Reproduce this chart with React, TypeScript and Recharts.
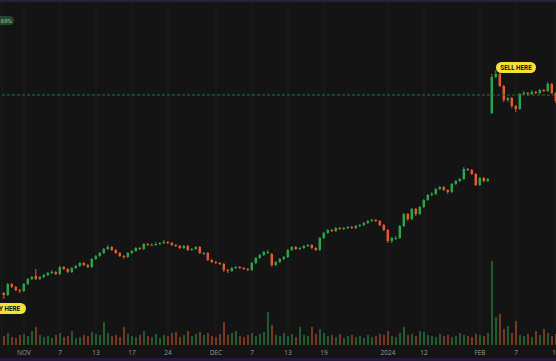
import React from 'react';
import { ComposedChart, Bar, XAxis, YAxis, CartesianGrid, ReferenceLine, ReferenceDot, Cell } from 'recharts';

const opens = [
  227, 225, 236, 233, 230, 229, 236, 241, 244, 241,
  243, 245, 247, 248, 246, 253, 251, 248, 252, 254,
  257, 255, 253, 261, 264, 267, 271, 273, 270, 267,
  264, 263, 267, 269, 272, 271, 276, 275, 275, 276,
  277, 278, 277, 275, 274, 272, 274, 270, 271, 273,
  267, 267, 260, 258, 257, 256, 250, 249, 252, 253,
  252, 251, 250, 257, 262, 265, 268, 266, 255, 258,
  261, 263, 270, 273, 271, 272, 274, 275, 272, 270,
  282, 287, 290, 289, 292, 291, 292, 293, 292, 294,
  295, 297, 299, 300, 299, 295, 290, 279, 282, 282,
  294, 306, 301, 311, 306, 313, 320, 325, 326, 331,
  333, 330, 328, 336, 339, 341, 351, 350, 346, 335,
  342, 339, 407, 443, 446, 434, 420, 422, 414, 411,
  426, 427, 426, 428, 427, 430, 429, 436, 427,
];
const closes = [
  225, 236, 233, 230, 229, 236, 241, 243, 241, 243,
  245, 247, 248, 246, 253, 251, 248, 252, 254, 257,
  255, 253, 261, 264, 267, 271, 273, 270, 267, 264,
  263, 267, 269, 272, 271, 276, 275, 275, 276, 277,
  278, 277, 275, 274, 272, 274, 270, 271, 273, 267,
  267, 260, 258, 257, 256, 250, 249, 252, 253, 252,
  251, 250, 257, 262, 265, 268, 268, 255, 258, 261,
  263, 270, 273, 271, 272, 274, 275, 272, 270, 282,
  287, 290, 289, 292, 291, 292, 293, 292, 294, 295,
  297, 299, 300, 299, 295, 290, 279, 282, 282, 294,
  306, 301, 311, 306, 313, 320, 325, 326, 331, 333,
  330, 328, 336, 339, 341, 351, 350, 346, 335, 342,
  339, 341, 443, 446, 434, 420, 422, 414, 411, 426,
  427, 426, 428, 427, 430, 429, 436, 427, 419,
];
const highs = [
  228, 237, 237, 234, 231, 237, 242, 244, 251, 244,
  246, 248, 250, 249, 254, 254, 252, 253, 255, 258,
  258, 256, 262, 265, 268, 272, 275, 274, 271, 268,
  265, 268, 270, 273, 273, 277, 277, 277, 278, 278,
  280, 279, 278, 276, 275, 275, 275, 272, 274, 274,
  268, 268, 261, 259, 258, 257, 251, 253, 254, 254,
  253, 252, 258, 263, 266, 269, 270, 267, 259, 262,
  264, 271, 274, 274, 273, 275, 276, 276, 273, 283,
  288, 291, 291, 293, 293, 293, 294, 294, 295, 296,
  298, 300, 301, 301, 300, 296, 291, 283, 284, 295,
  307, 307, 312, 312, 314, 321, 326, 328, 332, 334,
  334, 331, 337, 340, 342, 353, 352, 351, 347, 343,
  343, 342, 446, 450, 447, 435, 423, 423, 415, 427,
  429, 428, 430, 429, 431, 431, 438, 437, 428,
];
const lows = [
  221, 224, 232, 229, 227, 228, 235, 240, 240, 240,
  242, 244, 246, 245, 245, 250, 247, 247, 251, 253,
  254, 252, 252, 260, 263, 266, 270, 269, 266, 263,
  261, 262, 266, 268, 270, 270, 274, 274, 274, 275,
  276, 276, 274, 273, 271, 271, 269, 269, 270, 266,
  265, 259, 257, 256, 255, 248, 247, 248, 251, 251,
  250, 249, 249, 256, 261, 264, 266, 253, 254, 257,
  260, 262, 269, 270, 270, 271, 273, 271, 269, 269,
  281, 286, 288, 288, 290, 290, 291, 291, 291, 293,
  294, 296, 298, 298, 294, 289, 277, 277, 280, 281,
  293, 299, 300, 304, 305, 312, 319, 324, 325, 330,
  329, 326, 327, 335, 338, 340, 349, 345, 334, 334,
  338, 338, 406, 442, 433, 418, 418, 412, 408, 410,
  425, 424, 425, 426, 426, 428, 428, 426, 417,
];
const volumes = [
  9, 12, 8, 7, 10, 11, 9, 14, 18, 10,
  8, 9, 7, 10, 12, 8, 9, 14, 7, 8,
  10, 9, 13, 11, 10, 23, 12, 9, 10, 8,
  18, 11, 9, 8, 10, 14, 9, 8, 11, 7,
  10, 9, 12, 13, 8, 10, 14, 9, 11, 13,
  10, 12, 9, 8, 11, 23, 10, 12, 14, 9,
  8, 10, 12, 9, 11, 13, 33, 20, 10, 9,
  12, 9, 11, 8, 18, 10, 9, 18, 11, 16,
  12, 9, 10, 8, 11, 7, 9, 10, 8, 9,
  7, 10, 8, 9, 11, 10, 14, 9, 8, 12,
  18, 10, 11, 9, 14, 13, 10, 9, 8, 11,
  9, 10, 8, 9, 12, 10, 9, 8, 11, 10,
  9, 12, 84, 28, 31, 16, 19, 12, 24, 10,
  9, 11, 8, 14, 10, 16, 12, 9, 11,
];
const tickIndexes = [5, 14, 23, 32, 41, 53, 62, 71, 80, 96, 105, 119, 128, 138];
const tickLabels = ['NOV', '7', '13', '17', '24', 'DEC', '7', '13', '19', '2024', '12', 'FEB', '7', '14'];
const targetLevel = 425;
const buyIndex = 0;
const sellIndex = 123;

const GREEN = '#2ca24c';
const RED = '#e35a2f';

const data = closes.map((c, i) => ({
  i,
  open: opens[i],
  close: c,
  high: highs[i],
  low: lows[i],
  range: [lows[i], highs[i]],
  volume: volumes[i],
}));

const Candle = (props: any) => {
  const { x, y, width, height, payload } = props;
  if (!payload) return null;
  const top = Math.min(y, y + height);
  const h = Math.abs(height);
  const { open, close, high, low } = payload;
  const span = high - low || 1;
  const py = (p: number) => top + ((high - p) / span) * h;
  const color = close >= open ? GREEN : RED;
  const cx = x + width / 2;
  const bTop = py(Math.max(open, close));
  const bBot = py(Math.min(open, close));
  return (
    <g>
      <line x1={cx} x2={cx} y1={top} y2={top + h} stroke={color} strokeWidth={1} />
      <rect x={cx - 1.25} y={bTop} width={2.5} height={Math.max(1, bBot - bTop)} fill={color} />
    </g>
  );
};

const SellLabel = (p: any) => (
  <g>
    <rect x={p.cx} y={p.cy - 8} width={40} height={11} rx={5.5} fill="#f6e13b" />
    <text x={p.cx + 20} y={p.cy + 0.3} textAnchor="middle" fontSize={6.3} fontWeight={700} fill="#111" fontFamily="Roboto">SELL HERE</text>
  </g>
);

const BuyLabel = (p: any) => (
  <g>
    <rect x={p.cx - 20} y={p.cy + 4} width={42} height={11} rx={5.5} fill="#f6e13b" />
    <text x={p.cx + 1.5} y={p.cy + 12.3} textAnchor="middle" fontSize={6.3} fontWeight={700} fill="#111" fontFamily="Roboto">BUY HERE</text>
  </g>
);

export default function App() {
  return (
    <div style={{ position: 'absolute', left: 0, top: 0, width: 556, height: 361, background: '#141414', overflow: 'hidden' }}>
      <ComposedChart width={558} height={361} data={data} margin={{ top: 0, right: 0, left: 2, bottom: 0 }}>
        <CartesianGrid xAxisId="main" yAxisId="price" horizontal={false} stroke="#1d1d1d" />
        <XAxis
          xAxisId="main"
          dataKey="i"
          type="category"
          ticks={tickIndexes}
          interval={0}
          tickFormatter={(v: number) => tickLabels[tickIndexes.indexOf(v)] ?? ''}
          height={16}
          axisLine={false}
          tickLine={false}
          tickSize={0}
          tickMargin={5}
          tick={{ fontSize: 6.5, fill: '#9a9a9a', fontFamily: 'Open Sans' }}
        />
        <XAxis xAxisId="vol" dataKey="i" type="category" hide />
        <YAxis yAxisId="price" domain={[175, 520]} hide />
        <YAxis yAxisId="vol" domain={[0, 345]} hide />
        <ReferenceLine xAxisId="main" yAxisId="price" y={targetLevel} stroke="#2d6e38" strokeDasharray="3 2" strokeWidth={1} />
        <Bar xAxisId="vol" yAxisId="vol" dataKey="volume" barSize={2} isAnimationActive={false}>
          {data.map((d) => (
            <Cell key={d.i} fill={d.close >= d.open ? '#2a8a40' : '#b8502c'} fillOpacity={0.6} />
          ))}
        </Bar>
        <Bar xAxisId="main" yAxisId="price" dataKey="range" barSize={4} shape={<Candle />} isAnimationActive={false} />
        <ReferenceDot xAxisId="main" yAxisId="price" x={sellIndex} y={highs[sellIndex]} r={0} shape={SellLabel} />
        <ReferenceDot xAxisId="main" yAxisId="price" x={buyIndex} y={lows[buyIndex]} r={0} shape={BuyLabel} />
      </ComposedChart>
      <div style={{ position: 'absolute', left: 0, top: 0, width: 556, height: 2, background: '#2f1c45' }} />
      <div style={{ position: 'absolute', left: 0, top: 358, width: 556, height: 3, background: '#26163a' }} />
      <div style={{ position: 'absolute', left: -22, top: 16, width: 36, height: 9, borderRadius: 5, background: '#28452f', color: '#86c794', fontSize: 6, lineHeight: '9px', textAlign: 'right', paddingRight: 2, boxSizing: 'border-box', fontFamily: 'Roboto' }}>+0.69%</div>
    </div>
  );
}
